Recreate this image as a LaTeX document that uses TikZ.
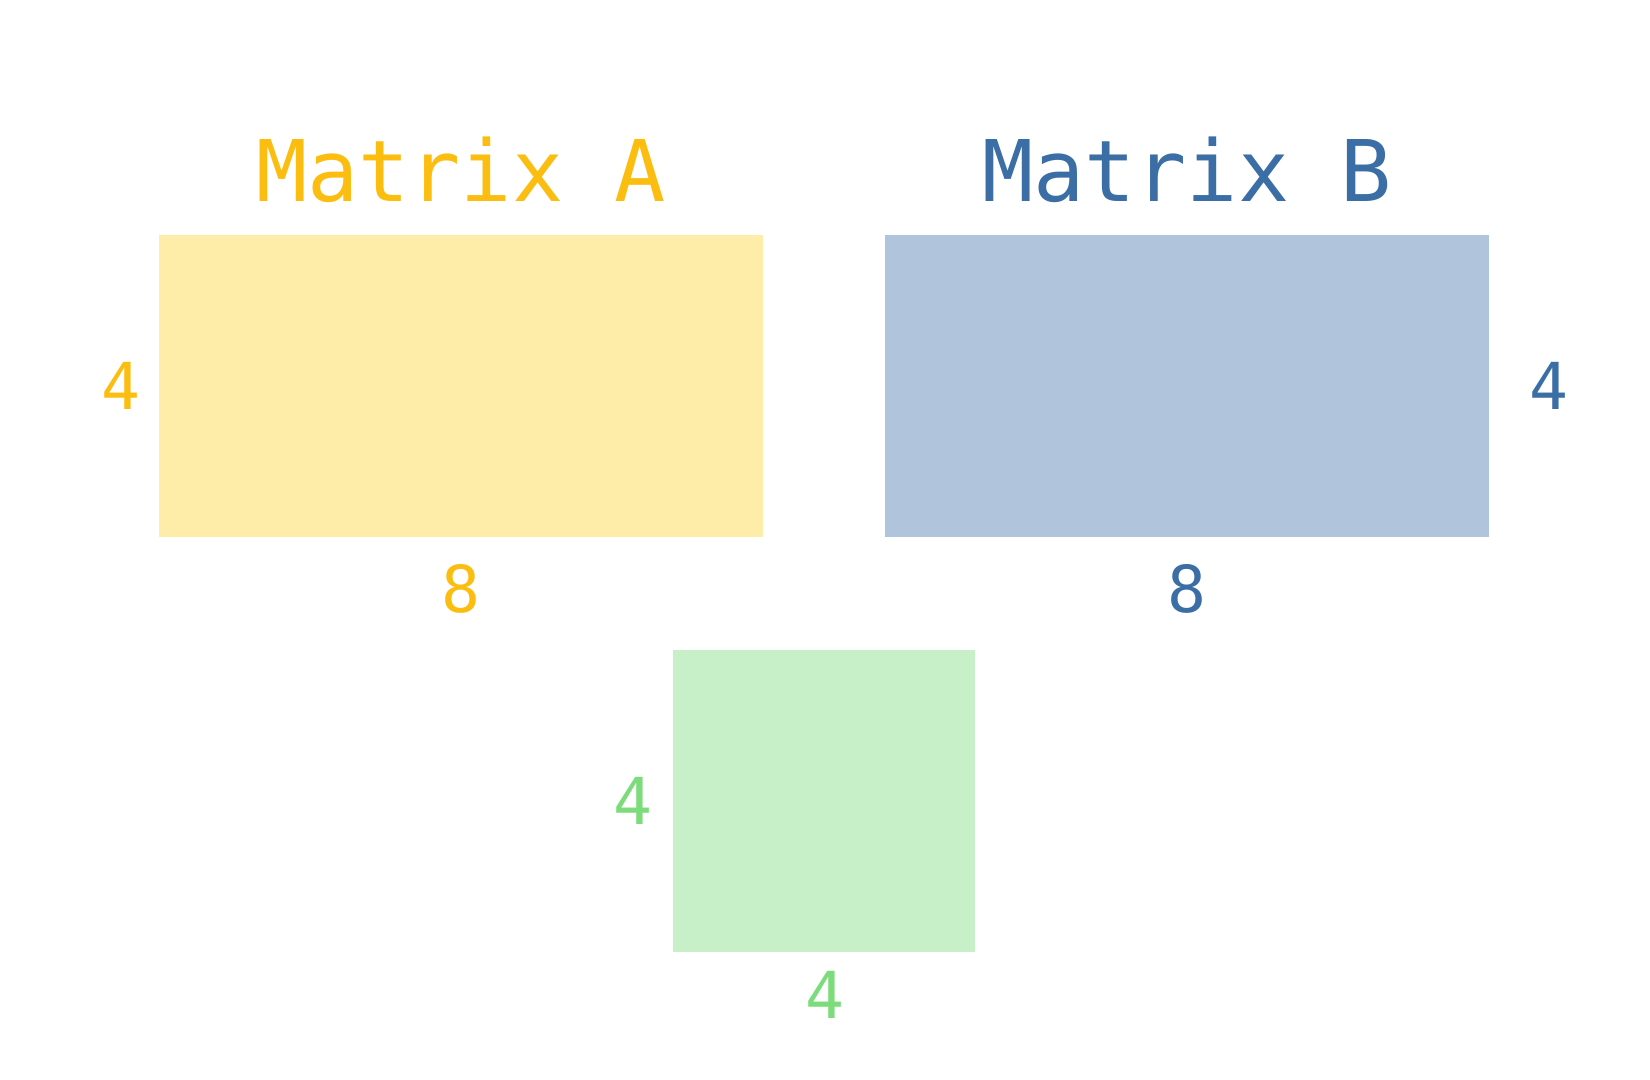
\documentclass[tikz,border=0pt]{standalone}
\usepackage{fontspec}
\setmonofont{DejaVu Sans Mono}
\usetikzlibrary{positioning}
\definecolor{ayel}{HTML}{FBBE10}
\definecolor{ayelfill}{HTML}{FDEDA8}
\definecolor{bblue}{HTML}{3A6EA5}
\definecolor{bbluefill}{HTML}{B0C4DB}
\definecolor{cgreen}{HTML}{7CDC7C}
\definecolor{cgreenfill}{HTML}{C8F0C8}
\tikzset{
  mat/.style={rectangle, inner sep=0, minimum width=#1},
  title/.style={font=\ttfamily\fontsize{23}{26}\selectfont, anchor=base, inner sep=0},
  dim/.style={font=\ttfamily\fontsize{17.5}{20}\selectfont, inner sep=0}
}
\begin{document}
\begin{tikzpicture}
\useasboundingbox (0,0) rectangle (15.68,10.26);
\node[mat=5.74cm, minimum height=2.87cm, fill=ayelfill] (A) at (4.38,6.595) {};
\node[mat=5.74cm, minimum height=2.87cm, fill=bbluefill] (B) at (11.28,6.595) {};
\node[mat=2.87cm, minimum height=2.87cm, fill=cgreenfill] (C) at (7.835,2.645) {};
\node[title, text=ayel] (titleA) at ([yshift=0.31cm]A.north) {Matrix A};
\node[title, text=bblue] (titleB) at ([yshift=0.31cm]B.north) {Matrix B};
\node[dim, text=ayel, left=0.16cm of A] (Arows) {4};
\node[dim, text=ayel, below=0.25cm of A] (Acols) {8};
\node[dim, text=bblue, right=0.37cm of B] (Brows) {4};
\node[dim, text=bblue, below=0.25cm of B] (Bcols) {8};
\node[dim, text=cgreen, left=0.19cm of C] (Crows) {4};
\node[dim, text=cgreen, below=0.17cm of C] (Ccols) {4};
\end{tikzpicture}
\end{document}
